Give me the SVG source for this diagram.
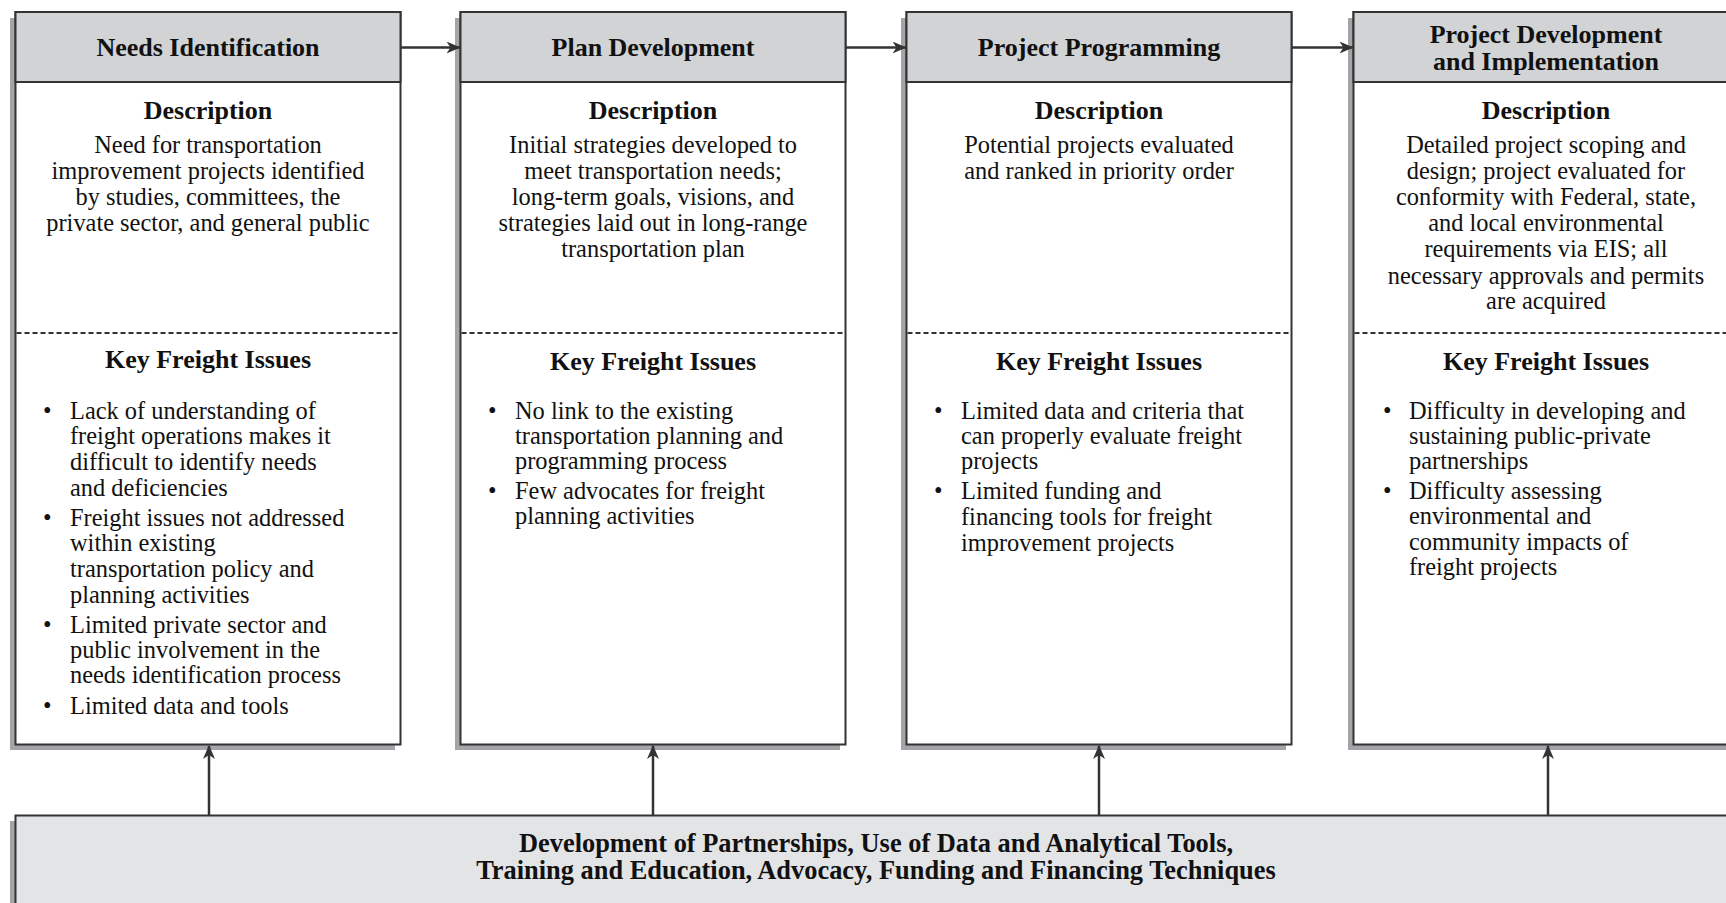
<svg xmlns="http://www.w3.org/2000/svg" width="1726" height="903" viewBox="0 0 1726 903">
<style>
text{font-family:"Liberation Serif","Times New Roman",serif;fill:#111}
.t{font-size:26px;font-weight:bold;text-anchor:middle}
.h{font-size:26px;font-weight:bold;text-anchor:middle}
.d{font-size:24.4px;text-anchor:middle}
.b{font-size:24.4px}
.shadow{fill:#a3a5a8}
.body{fill:#fff;stroke:#333;stroke-width:2}
.head{fill:#d2d3d5;stroke:#333;stroke-width:2}
.dash{stroke:#333;stroke-width:2;stroke-dasharray:5 3;fill:none}
.conn{stroke:#333;stroke-width:2.5;fill:none}
.bot{fill:#e3e4e6;stroke:#333;stroke-width:2}
</style>
<defs>
<marker id="ah" viewBox="0 0 14 12" refX="13" refY="6" markerWidth="14" markerHeight="12" markerUnits="userSpaceOnUse" orient="auto">
<path d="M0,0 L14,6 L0,12 L4,6 z" fill="#333"/>
</marker>
</defs>

<g id="node-needs">
<rect class="shadow" x="10" y="18" width="385" height="732"/>
<rect class="body" x="15.5" y="12" width="385" height="732.5"/>
<rect class="head" x="15.5" y="12" width="385" height="70"/>
<line class="dash" x1="16.5" y1="333" x2="399.5" y2="333"/>
<text class="t" x="208" y="56">Needs Identification</text>
<text class="h" x="208" y="119">Description</text>
<text class="d" x="208" y="152.5">Need for transportation</text>
<text class="d" x="208" y="178.7">improvement projects identified</text>
<text class="d" x="208" y="204.9">by studies, committees, the</text>
<text class="d" x="208" y="231.1">private sector, and general public</text>
<text class="h" x="208" y="368">Key Freight Issues</text>
<text class="b" x="43" y="419">•</text>
<text class="b" x="70" y="419">Lack of understanding of</text>
<text class="b" x="70" y="444">freight operations makes it</text>
<text class="b" x="70" y="470">difficult to identify needs</text>
<text class="b" x="70" y="496">and deficiencies</text>
<text class="b" x="43" y="526">•</text>
<text class="b" x="70" y="526">Freight issues not addressed</text>
<text class="b" x="70" y="551">within existing</text>
<text class="b" x="70" y="577">transportation policy and</text>
<text class="b" x="70" y="603">planning activities</text>
<text class="b" x="43" y="633">•</text>
<text class="b" x="70" y="633">Limited private sector and</text>
<text class="b" x="70" y="658">public involvement in the</text>
<text class="b" x="70" y="683">needs identification process</text>
<text class="b" x="43" y="714">•</text>
<text class="b" x="70" y="714">Limited data and tools</text>
</g>

<g id="node-plan">
<rect class="shadow" x="455" y="18" width="385" height="732"/>
<rect class="body" x="460.5" y="12" width="385" height="732.5"/>
<rect class="head" x="460.5" y="12" width="385" height="70"/>
<line class="dash" x1="461.5" y1="333" x2="844.5" y2="333"/>
<text class="t" x="653" y="56">Plan Development</text>
<text class="h" x="653" y="119">Description</text>
<text class="d" x="653" y="152.5">Initial strategies developed to</text>
<text class="d" x="653" y="178.7">meet transportation needs;</text>
<text class="d" x="653" y="204.9">long-term goals, visions, and</text>
<text class="d" x="653" y="231.1">strategies laid out in long-range</text>
<text class="d" x="653" y="257.3">transportation plan</text>
<text class="h" x="653" y="370">Key Freight Issues</text>
<text class="b" x="488" y="419">•</text>
<text class="b" x="515" y="419">No link to the existing</text>
<text class="b" x="515" y="444">transportation planning and</text>
<text class="b" x="515" y="469">programming process</text>
<text class="b" x="488" y="499">•</text>
<text class="b" x="515" y="499">Few advocates for freight</text>
<text class="b" x="515" y="524">planning activities</text>
</g>

<g id="node-programming">
<rect class="shadow" x="901" y="18" width="385" height="732"/>
<rect class="body" x="906.5" y="12" width="385" height="732.5"/>
<rect class="head" x="906.5" y="12" width="385" height="70"/>
<line class="dash" x1="907.5" y1="333" x2="1290.5" y2="333"/>
<text class="t" x="1099" y="56">Project Programming</text>
<text class="h" x="1099" y="119">Description</text>
<text class="d" x="1099" y="152.5">Potential projects evaluated</text>
<text class="d" x="1099" y="178.7">and ranked in priority order</text>
<text class="h" x="1099" y="370">Key Freight Issues</text>
<text class="b" x="934" y="419">•</text>
<text class="b" x="961" y="419">Limited data and criteria that</text>
<text class="b" x="961" y="444">can properly evaluate freight</text>
<text class="b" x="961" y="469">projects</text>
<text class="b" x="934" y="499">•</text>
<text class="b" x="961" y="499">Limited funding and</text>
<text class="b" x="961" y="525">financing tools for freight</text>
<text class="b" x="961" y="551">improvement projects</text>
</g>

<g id="node-implementation">
<rect class="shadow" x="1348" y="18" width="385" height="732"/>
<rect class="body" x="1353.5" y="12" width="385" height="732.5"/>
<rect class="head" x="1353.5" y="12" width="385" height="70"/>
<line class="dash" x1="1354.5" y1="333" x2="1737.5" y2="333"/>
<text class="t" x="1546" y="43">Project Development</text>
<text class="t" x="1546" y="70">and Implementation</text>
<text class="h" x="1546" y="119">Description</text>
<text class="d" x="1546" y="152.5">Detailed project scoping and</text>
<text class="d" x="1546" y="178.7">design; project evaluated for</text>
<text class="d" x="1546" y="204.9">conformity with Federal, state,</text>
<text class="d" x="1546" y="231.1">and local environmental</text>
<text class="d" x="1546" y="257.3">requirements via EIS; all</text>
<text class="d" x="1546" y="283.5">necessary approvals and permits</text>
<text class="d" x="1546" y="309.2">are acquired</text>
<text class="h" x="1546" y="370">Key Freight Issues</text>
<text class="b" x="1383" y="419">•</text>
<text class="b" x="1409" y="419">Difficulty in developing and</text>
<text class="b" x="1409" y="444">sustaining public-private</text>
<text class="b" x="1409" y="469">partnerships</text>
<text class="b" x="1383" y="499">•</text>
<text class="b" x="1409" y="499">Difficulty assessing</text>
<text class="b" x="1409" y="524">environmental and</text>
<text class="b" x="1409" y="550">community impacts of</text>
<text class="b" x="1409" y="575">freight projects</text>
</g>

<g id="node-support">
<rect class="shadow" x="10" y="821" width="1740" height="100"/>
<rect class="bot" x="15.5" y="815.5" width="1740" height="100"/>
<text class="t" x="876" y="852" style="font-size:26.4px">Development of Partnerships, Use of Data and Analytical Tools,</text>
<text class="t" x="876" y="879" style="font-size:26.4px">Training and Education, Advocacy, Funding and Financing Techniques</text>
</g>

<g id="connectors">
<line class="conn" x1="400.5" y1="47.5" x2="459.5" y2="47.5" marker-end="url(#ah)"/>
<line class="conn" x1="845.5" y1="47.5" x2="905.5" y2="47.5" marker-end="url(#ah)"/>
<line class="conn" x1="1291.5" y1="47.5" x2="1352.5" y2="47.5" marker-end="url(#ah)"/>
<line class="conn" x1="209" y1="815" x2="209" y2="746" marker-end="url(#ah)"/>
<line class="conn" x1="653" y1="815" x2="653" y2="746" marker-end="url(#ah)"/>
<line class="conn" x1="1099" y1="815" x2="1099" y2="746" marker-end="url(#ah)"/>
<line class="conn" x1="1548" y1="815" x2="1548" y2="746" marker-end="url(#ah)"/>
</g>
</svg>
